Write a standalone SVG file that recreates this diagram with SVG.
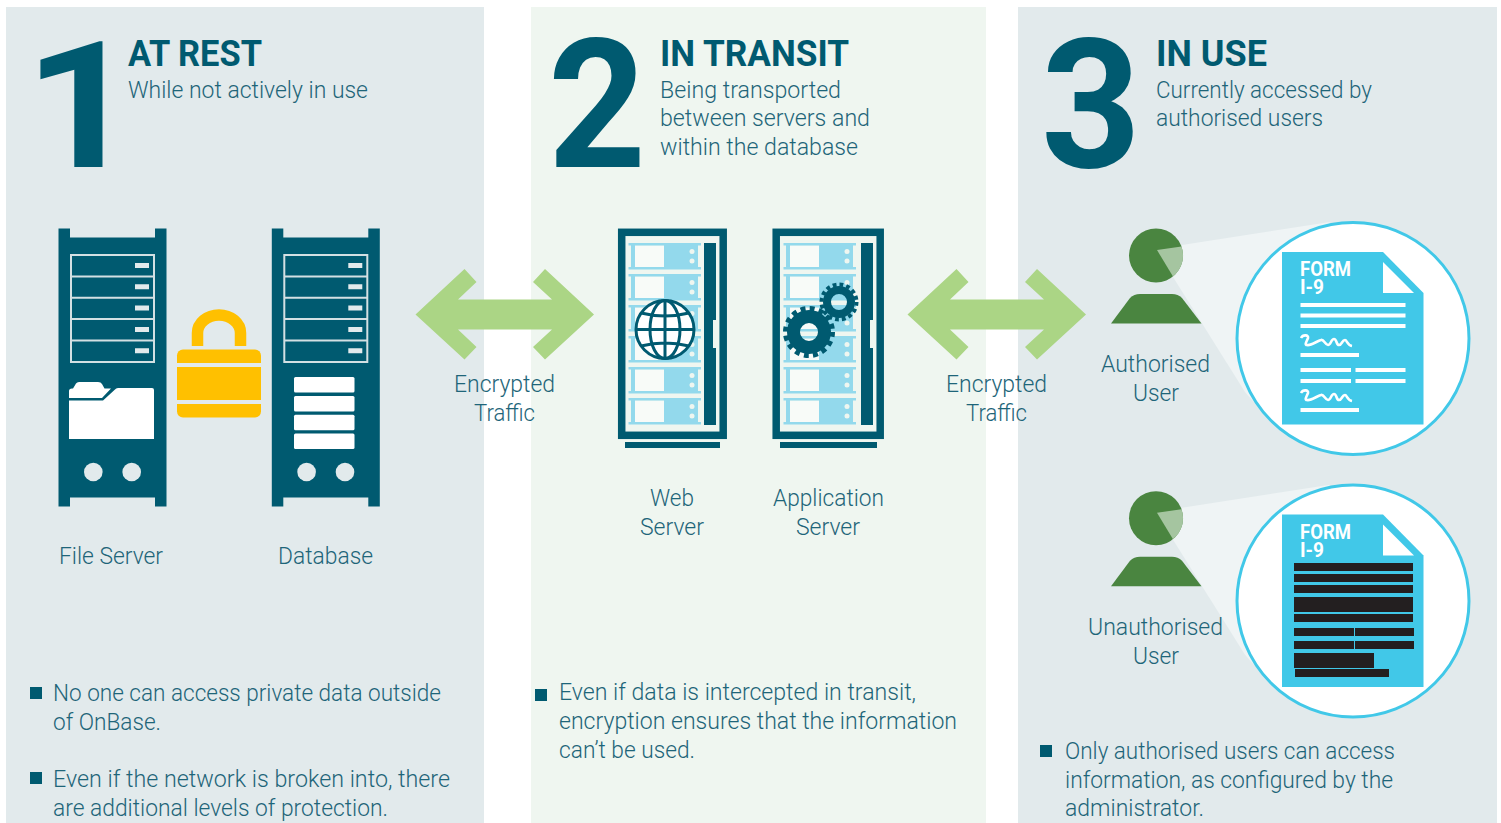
<svg xmlns="http://www.w3.org/2000/svg" width="1501" height="823" viewBox="0 0 1501 823">
<style>
text{font-family:Roboto,"Liberation Sans",sans-serif}
.t{font-size:24px;font-weight:300;fill:#1e6579}
.h{font-size:36px;font-weight:700;fill:#005a70}
.n{font-size:180px;font-weight:700;fill:#005a70}
.f{font-size:20px;font-weight:700;fill:#fff}
.d{fill:#005a70}
.w{fill:#fff}
.g{fill:#e2eaec}
.u{fill:#93d9ec}
.k{fill:#231f20}
.dot{fill:#eff6f0}
.p{fill:#4a8540}
.arrow{fill:#abd585}
.bul{fill:#005a70}
</style>
<defs>
<g id="rack">
<path class="d" d="M58.500 228.500H70V237.500H155V228.500H166.500V506.500H155V497.500H70V506.500H58.500Z"/>
<rect x="71" y="255" width="83" height="107" fill="none" stroke="#d3e0e3" stroke-width="2"/>
<path d="M71 276.500H154M71 297.800H154M71 319.100H154M71 340.500H154" stroke="#d3e0e3" stroke-width="2" fill="none"/>
<path d="M135 265.500H149M135 286.800H149M135 308.100H149M135 329.400H149M135 350.700H149" stroke="#e2eaec" stroke-width="5" fill="none"/>
<circle class="g" cx="93.300" cy="472" r="9.300"/>
<circle class="g" cx="131.700" cy="472" r="9.300"/>
</g>
<g id="unit">
<rect x="0" y="0" width="72.500" height="2.500" class="u"/>
<rect x="0" y="24" width="72.500" height="2.500" class="u"/>
<rect x="2.500" y="2" width="4" height="23" class="u"/>
<rect x="35.500" y="2" width="34" height="23" class="u"/>
<rect x="6.500" y="3" width="29" height="21" class="w" opacity=".55"/>
<circle class="dot" cx="63.500" cy="8.500" r="2.500"/>
<circle class="dot" cx="63.500" cy="18" r="2.500"/>
</g>
<g id="person">
<path d="M1182 245L1330 222L1270 420L1245 392L1173 277Z" fill="#eff4f5"/>
<circle class="p" cx="1156" cy="255.500" r="27"/>
<path d="M1157 250L1181.500 246.500A27 27 0 0 1 1173 276.500Z" fill="#a5c5a0"/>
<path class="p" d="M1111 323.500L1130 298Q1134 294 1140 294H1172Q1178 294 1182 298L1201.500 323.500Z"/>
</g>
<g id="doc">
<circle cx="1353" cy="338.500" r="116" fill="#fff" stroke="#41c8e8" stroke-width="3"/>
<path d="M1282 252H1383L1423.500 293V424.500H1282Z" fill="#41c8e8"/>
<path d="M1383 262V293H1414Z" fill="#fff"/>
<text class="f" x="1300" y="276" textLength="51" lengthAdjust="spacingAndGlyphs">FORM</text>
<text class="f" x="1300" y="294" textLength="24" lengthAdjust="spacingAndGlyphs">I-9</text>
</g>
<path id="sq" d="M1301 338C1303 334 1309 335 1308 338C1307 341 1304 345 1307 345C1311 346 1317 341 1321 340C1324 339 1325 345 1328 345C1331 345 1331 339 1334 339C1337 339 1336 345 1339 345C1342 345 1342 340 1345 340C1347 340 1347 345 1352 346" fill="none" stroke="#fff" stroke-width="2.600"/>
</defs>

<g id="panels">
<rect x="6" y="7" width="478" height="816" fill="#e2eaec"/>
<rect x="531" y="7" width="455" height="816" fill="#eff6f0"/>
<rect x="1018" y="7" width="479" height="816" fill="#e2eaec"/>
</g>

<g id="head-1">
<text class="n" x="24" y="167" textLength="115" lengthAdjust="spacingAndGlyphs" style="font-size:176px">1</text>
<text class="h" x="128" y="66" textLength="134" lengthAdjust="spacingAndGlyphs">AT REST</text>
<text class="t" x="128" y="98" textLength="240" lengthAdjust="spacingAndGlyphs">While not actively in use</text>
</g>
<g id="head-2">
<text class="n" x="548" y="167" textLength="98" lengthAdjust="spacingAndGlyphs">2</text>
<text class="h" x="660" y="66" textLength="189" lengthAdjust="spacingAndGlyphs">IN TRANSIT</text>
<text class="t" x="660" y="98" textLength="181" lengthAdjust="spacingAndGlyphs">Being transported</text>
<text class="t" x="660" y="126" textLength="210" lengthAdjust="spacingAndGlyphs">between servers and</text>
<text class="t" x="660" y="155" textLength="198" lengthAdjust="spacingAndGlyphs">within the database</text>
</g>
<g id="head-3">
<text class="n" x="1041" y="167" textLength="100" lengthAdjust="spacingAndGlyphs">3</text>
<text class="h" x="1156" y="66" textLength="111" lengthAdjust="spacingAndGlyphs">IN USE</text>
<text class="t" x="1156" y="98" textLength="216" lengthAdjust="spacingAndGlyphs">Currently accessed by</text>
<text class="t" x="1156" y="126" textLength="167" lengthAdjust="spacingAndGlyphs">authorised users</text>
</g>

<g id="file-server">
<use href="#rack"/>
<path class="w" d="M69 391Q69 388.500 72 388.500H73L76 383.500Q77 382 79 382H98Q101 382 102 384L104.500 388.500H111L102 398H69Z"/>
<path class="w" d="M69 400.500H103L115 389.500Q116 388 118 388H152Q154 388 154 390V439H69Z"/>
<text class="t" x="59" y="564" textLength="104" lengthAdjust="spacingAndGlyphs">File Server</text>
</g>
<g id="lock">
<path d="M197.500 346V333A21.500 18 0 0 1 240.500 333V346" fill="none" stroke="#ffc000" stroke-width="11.500"/>
<rect x="177" y="349.500" width="84" height="68" rx="6" fill="#ffc000"/>
<rect x="177" y="363" width="84" height="4" fill="#e2eaec"/>
<rect x="177" y="400" width="84" height="4" fill="#e2eaec"/>
</g>
<g id="database">
<use href="#rack" x="213.300"/>
<rect class="w" x="294" y="377" width="60.500" height="15.500" rx="1.500"/>
<rect class="w" x="294" y="396" width="60.500" height="15.500" rx="1.500"/>
<rect class="w" x="294" y="414.800" width="60.500" height="15.500" rx="1.500"/>
<rect class="w" x="294" y="433.500" width="60.500" height="15.500" rx="1.500"/>
<text class="t" x="278" y="564" textLength="95" lengthAdjust="spacingAndGlyphs">Database</text>
</g>

<g id="web-server">
<rect x="621.700" y="232.300" width="101.500" height="203" fill="none" stroke="#005a70" stroke-width="7.500"/>
<rect class="d" x="625" y="442" width="95" height="6"/>
<use href="#unit" x="628.500" y="243"/><use href="#unit" x="628.500" y="274"/><use href="#unit" x="628.500" y="305"/><use href="#unit" x="628.500" y="336"/><use href="#unit" x="628.500" y="367"/><use href="#unit" x="628.500" y="398"/>
<path class="d" d="M704 243H716V320H713V348H716V425H704Z"/>
<circle cx="665" cy="329.500" r="29" fill="#fff" stroke="#005a70" stroke-width="3"/>
<g fill="none" stroke="#005a70" stroke-width="3">
<ellipse cx="665" cy="329.500" rx="15" ry="29"/>
<path d="M665 300.500V358.500M636 329.500H694M641 313Q665 319 689 313M641 346Q665 340 689 346"/>
</g>
<text class="t" x="650" y="506" textLength="44" lengthAdjust="spacingAndGlyphs">Web</text>
<text class="t" x="640" y="535" textLength="64" lengthAdjust="spacingAndGlyphs">Server</text>
</g>

<g id="app-server">
<rect x="776.200" y="232.300" width="104" height="203" fill="none" stroke="#005a70" stroke-width="7.500"/>
<rect class="d" x="780" y="442" width="97" height="6"/>
<use href="#unit" x="783.500" y="243"/><use href="#unit" x="783.500" y="274"/><use href="#unit" x="783.500" y="305"/><use href="#unit" x="783.500" y="336"/><use href="#unit" x="783.500" y="367"/><use href="#unit" x="783.500" y="398"/>
<path class="d" d="M861 243H873V320H870V348H873V425H861Z"/>
<g fill="none" stroke="#005a70">
<circle cx="809" cy="332" r="15.500" stroke-width="13"/>
<circle cx="809" cy="332" r="23.500" stroke-width="5" stroke-dasharray="4.900 4.330"/>
<circle cx="839" cy="302" r="12" stroke-width="8"/>
<circle cx="839" cy="302" r="17.500" stroke-width="4" stroke-dasharray="3.800 3.070"/>
</g>
<text class="t" x="773" y="506" textLength="111" lengthAdjust="spacingAndGlyphs">Application</text>
<text class="t" x="796" y="535" textLength="64" lengthAdjust="spacingAndGlyphs">Server</text>
</g>

<g id="authorised-user">
<use href="#person"/>
<use href="#doc"/>
<path d="M1300.500 305H1405.500M1300.500 315.500H1405.500M1300.500 326H1405.500M1300.500 355H1359M1300.500 370H1351M1355.500 370H1405.500M1300.500 381H1351M1355.500 381H1405.500M1300.500 410H1359" stroke="#fff" stroke-width="4" fill="none"/>
<use href="#sq"/>
<use href="#sq" y="55"/>
<text class="t" x="1101" y="372" textLength="109" lengthAdjust="spacingAndGlyphs">Authorised</text>
<text class="t" x="1133" y="401" textLength="46" lengthAdjust="spacingAndGlyphs">User</text>
</g>

<g id="unauthorised-user">
<use href="#person" y="262.700"/>
<use href="#doc" y="262.500"/>
<rect class="k" x="1294" y="563" width="119" height="8"/>
<rect class="k" x="1294" y="574" width="119" height="8"/>
<rect class="k" x="1294" y="585" width="119" height="8"/>
<rect class="k" x="1294" y="597" width="119" height="15"/>
<rect class="k" x="1294" y="614" width="119" height="8"/>
<rect class="k" x="1294" y="628" width="60" height="8"/>
<rect class="k" x="1355" y="628" width="59" height="8"/>
<rect class="k" x="1294" y="641" width="60" height="8"/>
<rect class="k" x="1355" y="641" width="59" height="8"/>
<rect class="k" x="1294" y="653" width="80" height="15"/>
<rect class="k" x="1295" y="669" width="94" height="8"/>
<text class="t" x="1088" y="635" textLength="135" lengthAdjust="spacingAndGlyphs">Unauthorised</text>
<text class="t" x="1133" y="664" textLength="46" lengthAdjust="spacingAndGlyphs">User</text>
</g>

<g id="connectors">
<path id="arrow-1" class="arrow" d="M415.500 314.500L464.500 269L476.500 282L458 299.500H552L533 282L545 269L594 314.500L545 359.500L533 347L552 329.500H458L476.500 347L464.500 359.500Z"/>
<use href="#arrow-1" x="492"/>
<text class="t" x="454" y="392" textLength="101" lengthAdjust="spacingAndGlyphs">Encrypted</text>
<text class="t" x="474" y="421" textLength="61" lengthAdjust="spacingAndGlyphs">Traffic</text>
<text class="t" x="946" y="392" textLength="101" lengthAdjust="spacingAndGlyphs">Encrypted</text>
<text class="t" x="966" y="421" textLength="61" lengthAdjust="spacingAndGlyphs">Traffic</text>
</g>

<g id="notes-1">
<rect class="bul" x="30" y="687" width="12" height="12"/>
<text class="t" x="53" y="701" textLength="388" lengthAdjust="spacingAndGlyphs">No one can access private data outside</text>
<text class="t" x="53" y="730" textLength="108" lengthAdjust="spacingAndGlyphs">of OnBase.</text>
<rect class="bul" x="30" y="772" width="12" height="12"/>
<text class="t" x="53" y="787" textLength="397" lengthAdjust="spacingAndGlyphs">Even if the network is broken into, there</text>
<text class="t" x="53" y="816" textLength="335" lengthAdjust="spacingAndGlyphs">are additional levels of protection.</text>
</g>
<g id="notes-2">
<rect class="bul" x="535" y="689" width="12" height="12"/>
<text class="t" x="559" y="700" textLength="357" lengthAdjust="spacingAndGlyphs">Even if data is intercepted in transit,</text>
<text class="t" x="559" y="729" textLength="398" lengthAdjust="spacingAndGlyphs">encryption ensures that the information</text>
<text class="t" x="559" y="758" textLength="136" lengthAdjust="spacingAndGlyphs">can’t be used.</text>
</g>
<g id="notes-3">
<rect class="bul" x="1040" y="745" width="12" height="12"/>
<text class="t" x="1065" y="759" textLength="330" lengthAdjust="spacingAndGlyphs">Only authorised users can access</text>
<text class="t" x="1065" y="788" textLength="328" lengthAdjust="spacingAndGlyphs">information, as configured by the</text>
<text class="t" x="1065" y="816" textLength="139" lengthAdjust="spacingAndGlyphs">administrator.</text>
</g>
</svg>
